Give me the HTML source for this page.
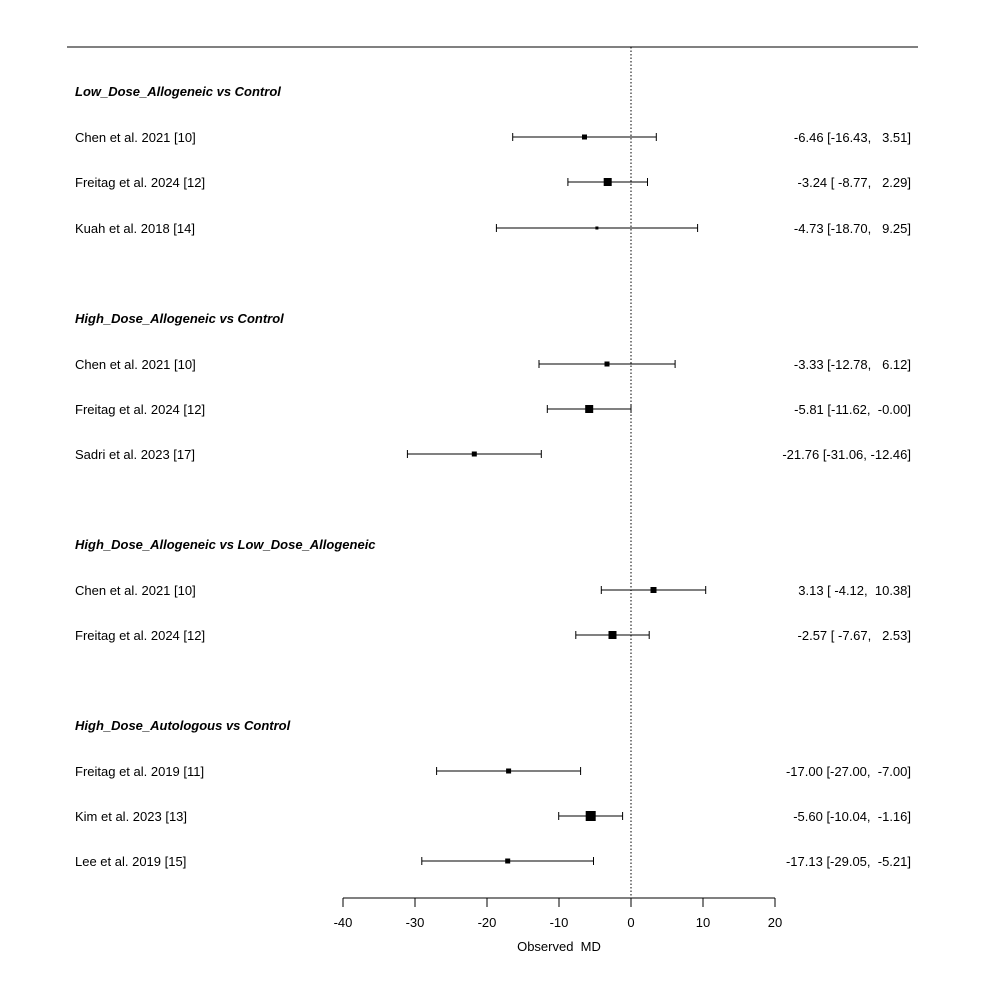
<!DOCTYPE html>
<html><head><meta charset="utf-8"><style>
html,body{margin:0;padding:0;background:#fff}
svg text{font-family:"Liberation Sans",Arial,sans-serif;font-size:13px;fill:#000;white-space:pre}
.h{font-weight:bold;font-style:italic}
.r{text-anchor:end}
.m{text-anchor:middle}
</style></head><body>
<svg width="986" height="986" viewBox="0 0 986 986" xmlns="http://www.w3.org/2000/svg">
<line x1="67" y1="47" x2="918" y2="47" stroke="#000" stroke-width="1"/>
<line x1="631" y1="47" x2="631" y2="898" stroke="#000" stroke-width="1" stroke-dasharray="1.5,2"/>
<g stroke="#000" stroke-width="1">
<line x1="343" y1="898" x2="775" y2="898"/>
<line x1="343" y1="898" x2="343" y2="907"/><line x1="415" y1="898" x2="415" y2="907"/>
<line x1="487" y1="898" x2="487" y2="907"/><line x1="559" y1="898" x2="559" y2="907"/>
<line x1="631" y1="898" x2="631" y2="907"/><line x1="703" y1="898" x2="703" y2="907"/>
<line x1="775" y1="898" x2="775" y2="907"/>
</g>
<g class="m">
<text x="343" y="927" class="m">-40</text><text x="415" y="927" class="m">-30</text>
<text x="487" y="927" class="m">-20</text><text x="559" y="927" class="m">-10</text>
<text x="631" y="927" class="m">0</text><text x="703" y="927" class="m">10</text>
<text x="775" y="927" class="m">20</text>
<text x="559" y="951" class="m">Observed  MD</text>
</g>
<text x="75" y="96" class="h">Low_Dose_Allogeneic vs Control</text>
<text x="75" y="323" class="h">High_Dose_Allogeneic vs Control</text>
<text x="75" y="549" class="h">High_Dose_Allogeneic vs Low_Dose_Allogeneic</text>
<text x="75" y="730" class="h">High_Dose_Autologous vs Control</text>
<g id="rows" stroke="#000" stroke-width="1">
<!-- y, lo, hi, est, size -->
</g>
<g stroke="#000" stroke-width="1" fill="#000">
<line x1="512.7" y1="137" x2="656.3" y2="137"/><line x1="512.7" y1="133" x2="512.7" y2="141"/><line x1="656.3" y1="133" x2="656.3" y2="141"/><rect x="582" y="134.5" width="5" height="5" stroke="none"/>
<line x1="567.9" y1="182" x2="647.5" y2="182"/><line x1="567.9" y1="178" x2="567.9" y2="186"/><line x1="647.5" y1="178" x2="647.5" y2="186"/><rect x="603.7" y="178" width="8" height="8" stroke="none"/>
<line x1="496.4" y1="228" x2="697.6" y2="228"/><line x1="496.4" y1="224" x2="496.4" y2="232"/><line x1="697.6" y1="224" x2="697.6" y2="232"/><rect x="595.4" y="226.5" width="3" height="3" stroke="none"/>
<line x1="539" y1="364" x2="675.1" y2="364"/><line x1="539" y1="360" x2="539" y2="368"/><line x1="675.1" y1="360" x2="675.1" y2="368"/><rect x="604.5" y="361.5" width="5" height="5" stroke="none"/>
<line x1="547.3" y1="409" x2="631" y2="409"/><line x1="547.3" y1="405" x2="547.3" y2="413"/><line x1="631" y1="405" x2="631" y2="413"/><rect x="585.2" y="405" width="8" height="8" stroke="none"/>
<line x1="407.4" y1="454" x2="541.3" y2="454"/><line x1="407.4" y1="450" x2="407.4" y2="458"/><line x1="541.3" y1="450" x2="541.3" y2="458"/><rect x="471.8" y="451.5" width="5" height="5" stroke="none"/>
<line x1="601.3" y1="590" x2="705.7" y2="590"/><line x1="601.3" y1="586" x2="601.3" y2="594"/><line x1="705.7" y1="586" x2="705.7" y2="594"/><rect x="650.5" y="587" width="6" height="6" stroke="none"/>
<line x1="575.8" y1="635" x2="649.2" y2="635"/><line x1="575.8" y1="631" x2="575.8" y2="639"/><line x1="649.2" y1="631" x2="649.2" y2="639"/><rect x="608.5" y="631" width="8" height="8" stroke="none"/>
<line x1="436.6" y1="771" x2="580.6" y2="771"/><line x1="436.6" y1="767" x2="436.6" y2="775"/><line x1="580.6" y1="767" x2="580.6" y2="775"/><rect x="506.1" y="768.5" width="5" height="5" stroke="none"/>
<line x1="558.7" y1="816" x2="622.6" y2="816"/><line x1="558.7" y1="812" x2="558.7" y2="820"/><line x1="622.6" y1="812" x2="622.6" y2="820"/><rect x="585.7" y="811" width="10" height="10" stroke="none"/>
<line x1="421.8" y1="861" x2="593.5" y2="861"/><line x1="421.8" y1="857" x2="421.8" y2="865"/><line x1="593.5" y1="857" x2="593.5" y2="865"/><rect x="505.2" y="858.5" width="5" height="5" stroke="none"/>
</g>
<text x="75" y="142">Chen et al. 2021 [10]</text><text x="911" y="142" class="r">-6.46 [-16.43,   3.51]</text>
<text x="75" y="187">Freitag et al. 2024 [12]</text><text x="911" y="187" class="r">-3.24 [ -8.77,   2.29]</text>
<text x="75" y="233">Kuah et al. 2018 [14]</text><text x="911" y="233" class="r">-4.73 [-18.70,   9.25]</text>
<text x="75" y="369">Chen et al. 2021 [10]</text><text x="911" y="369" class="r">-3.33 [-12.78,   6.12]</text>
<text x="75" y="414">Freitag et al. 2024 [12]</text><text x="911" y="414" class="r">-5.81 [-11.62,  -0.00]</text>
<text x="75" y="459">Sadri et al. 2023 [17]</text><text x="911" y="459" class="r">-21.76 [-31.06, -12.46]</text>
<text x="75" y="595">Chen et al. 2021 [10]</text><text x="911" y="595" class="r">3.13 [ -4.12,  10.38]</text>
<text x="75" y="640">Freitag et al. 2024 [12]</text><text x="911" y="640" class="r">-2.57 [ -7.67,   2.53]</text>
<text x="75" y="776">Freitag et al. 2019 [11]</text><text x="911" y="776" class="r">-17.00 [-27.00,  -7.00]</text>
<text x="75" y="821">Kim et al. 2023 [13]</text><text x="911" y="821" class="r">-5.60 [-10.04,  -1.16]</text>
<text x="75" y="866">Lee et al. 2019 [15]</text><text x="911" y="866" class="r">-17.13 [-29.05,  -5.21]</text>
</svg>
</body></html>
